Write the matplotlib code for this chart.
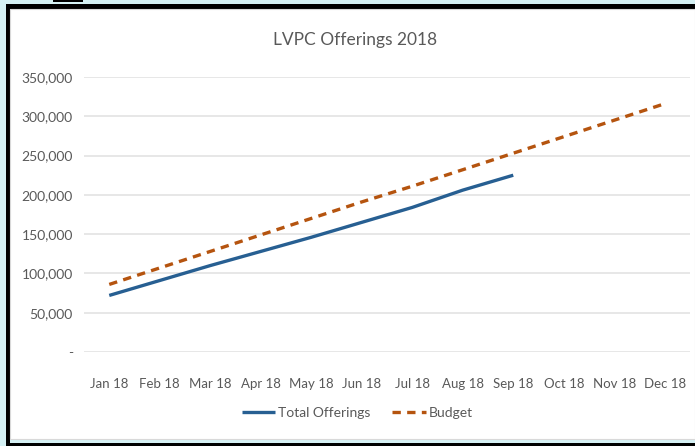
import matplotlib
matplotlib.use("Agg")
import matplotlib.pyplot as plt
from matplotlib.patches import Rectangle
from matplotlib.ticker import FuncFormatter

months = ["Jan 18", "Feb 18", "Mar 18", "Apr 18", "May 18", "Jun 18",
          "Jul 18", "Aug 18", "Sep 18", "Oct 18", "Nov 18", "Dec 18"]
total_offerings = [72000, 91000, 110000, 128000, 146000, 165000, 184000, 206000, 225000]
budget = [86000, 107000, 128000, 149000, 170000, 191000, 211000, 232000, 253000, 274000, 295000, 316000]
yticks = [0, 50000, 100000, 150000, 200000, 250000, 300000, 350000]

plt.rcParams['font.family'] = ['Lato', 'DejaVu Sans']
W, H = 695, 446
fig = plt.figure(figsize=(W / 100, H / 100), dpi=100)
fig.patch.set_facecolor('#d5f1f4')

def px(x0, y0, w, h, **kw):
    fig.add_artist(Rectangle((x0 / W, 1 - (y0 + h) / H), w / W, h / H,
                             transform=fig.transFigure, zorder=-5, **kw))

# frame
px(6, 4, 689, 5, color='black', lw=0)
px(6, 4, 4, 442, color='black', lw=0)
px(6, 443, 689, 3, color='black', lw=0)
px(10, 9, 685, 430, facecolor='white', edgecolor='#d9d9d9', lw=0.8)
px(53, 0, 30, 2, color='black', lw=0)

ax = fig.add_axes([84 / W, 1 - 352 / H, 606 / W, (352 - 77) / H])
ax.set_facecolor('none')
x_all = list(range(len(months)))
ax.plot(x_all[:len(total_offerings)], total_offerings, color='#275f92', lw=2.4,
        solid_capstyle='butt', label='Total Offerings')
ax.plot(x_all, budget, color='#b5540f', lw=2.4, dashes=(2.5, 1.9),
        label='Budget')
ax.set_xlim(-0.5, 11.5)
ax.set_ylim(0, 350000)
ax.set_yticks(yticks)
ax.yaxis.set_major_formatter(FuncFormatter(lambda v, p: '-' if v == 0 else f"{int(v):,}"))
ax.set_xticks(x_all)
ax.set_xticklabels(months)
ax.grid(axis='y', color='#e3e3e3', lw=1.2)
ax.set_axisbelow(True)
for s in ax.spines.values():
    s.set_visible(False)
ax.tick_params(length=0, labelsize=10, colors='#595959', pad=8)
ax.tick_params(axis='x', labelsize=9.5, pad=19)

fig.text(355 / W, 1 - 40 / H, 'LVPC Offerings 2018', ha='center', va='center',
         fontsize=12.5, color='#595959')
leg = fig.legend(loc='center', bbox_to_anchor=(357 / W, 1 - 413 / H), ncol=2,
                 frameon=False, fontsize=10, handlelength=2.4, columnspacing=1.6,
                 handletextpad=0.2)
for t in leg.get_texts():
    t.set_color('#595959')

fig.savefig('out.png', dpi=100, facecolor=fig.get_facecolor())
